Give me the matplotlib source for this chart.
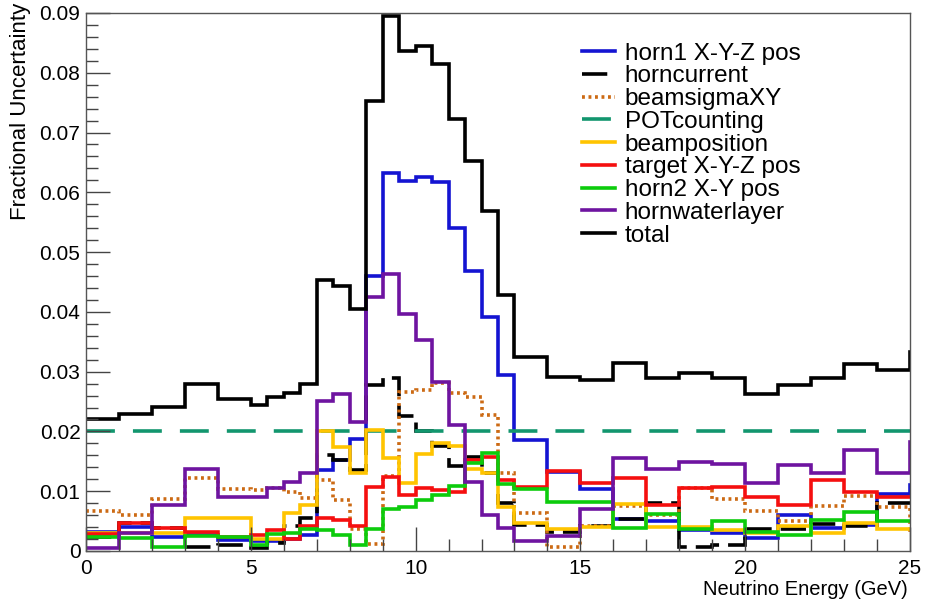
import matplotlib
matplotlib.use('Agg')
import matplotlib.pyplot as plt
from matplotlib.ticker import MultipleLocator

plt.rcParams['font.family'] = ['Liberation Sans', 'DejaVu Sans']

# bin edges (GeV); the last bin sits past 25 and only shows as the step at the edge
edges = [0, 1, 2, 3, 4, 5, 5.5, 6, 6.5, 7, 7.5, 8, 8.5, 9, 9.5, 10, 10.5, 11,
         11.5, 12, 12.5, 13, 14, 15, 16, 17, 18, 19, 20, 21, 22, 23, 24, 25, 26]

horn1 = [0.0032, 0.0040, 0.0023, 0.0027, 0.0018, 0.0016, 0.0016, 0.0020, 0.0027,
         0.0135, 0.0152, 0.0187, 0.0460, 0.0632, 0.0619, 0.0626, 0.0618, 0.0540,
         0.0469, 0.0392, 0.0294, 0.0186, 0.0132, 0.0103, 0.0053, 0.0050, 0.0035,
         0.0030, 0.0021, 0.0060, 0.0038, 0.0043, 0.0095, 0.0110]
horncurrent = [0.0024, 0.0047, 0.0038, 0.0006, 0.0010, 0.0005, 0.0013, 0.0042, 0.0056,
               0.0161, 0.0152, 0.0135, 0.0278, 0.0289, 0.0225, 0.0201, 0.0176, 0.0142,
               0.0157, 0.0131, 0.0081, 0.0044, 0.0032, 0.0042, 0.0053, 0.0081, 0.0007,
               0.0010, 0.0037, 0.0037, 0.0045, 0.0041, 0.0081, 0.0081]
beamsigma = [0.0067, 0.0061, 0.0087, 0.0122, 0.0104, 0.0102, 0.0105, 0.0098, 0.0088,
             0.0118, 0.0085, 0.0036, 0.0012, 0.0125, 0.0266, 0.0270, 0.0281, 0.0264,
             0.0257, 0.0227, 0.0130, 0.0063, 0.0006, 0.0042, 0.0076, 0.0060, 0.0105,
             0.0087, 0.0067, 0.0051, 0.0075, 0.0092, 0.0073, 0.0035]
potcounting = [0.02] * 34
beampos = [0.0030, 0.0030, 0.0030, 0.0056, 0.0056, 0.0020, 0.0020, 0.0063, 0.0077,
           0.0200, 0.0174, 0.0131, 0.0203, 0.0155, 0.0114, 0.0163, 0.0180, 0.0176,
           0.0138, 0.0130, 0.0074, 0.0046, 0.0036, 0.0040, 0.0079, 0.0040, 0.0040,
           0.0035, 0.0030, 0.0041, 0.0030, 0.0046, 0.0036, 0.0036]
target = [0.0028, 0.0046, 0.0038, 0.0031, 0.0024, 0.0027, 0.0035, 0.0020, 0.0041,
          0.0055, 0.0052, 0.0042, 0.0107, 0.0124, 0.0094, 0.0106, 0.0102, 0.0098,
          0.0152, 0.0157, 0.0118, 0.0107, 0.0133, 0.0114, 0.0122, 0.0077, 0.0105,
          0.0107, 0.0091, 0.0077, 0.0119, 0.0098, 0.0091, 0.0091]
horn2 = [0.0024, 0.0021, 0.0006, 0.0025, 0.0024, 0.0010, 0.0028, 0.0030, 0.0036,
         0.0035, 0.0027, 0.0010, 0.0036, 0.0070, 0.0074, 0.0085, 0.0094, 0.0108,
         0.0147, 0.0164, 0.0112, 0.0103, 0.0082, 0.0082, 0.0038, 0.0062, 0.0036,
         0.0050, 0.0032, 0.0027, 0.0052, 0.0066, 0.0051, 0.0051]
waterlayer = [0.0005, 0.0030, 0.0077, 0.0137, 0.0090, 0.0091, 0.0105, 0.0116, 0.0130,
              0.0251, 0.0263, 0.0216, 0.0425, 0.0464, 0.0397, 0.0353, 0.0283, 0.0211,
              0.0116, 0.0060, 0.0038, 0.0016, 0.0025, 0.0070, 0.0155, 0.0138, 0.0149,
              0.0145, 0.0113, 0.0144, 0.0131, 0.0169, 0.0130, 0.0183]
total = [0.0220, 0.0229, 0.0241, 0.0279, 0.0254, 0.0244, 0.0258, 0.0265, 0.0280,
         0.0453, 0.0444, 0.0404, 0.0753, 0.0895, 0.0836, 0.0845, 0.0814, 0.0722,
         0.0652, 0.0569, 0.0428, 0.0325, 0.0291, 0.0286, 0.0314, 0.0290, 0.0298,
         0.0290, 0.0263, 0.0278, 0.0290, 0.0312, 0.0303, 0.0333]

labels = ['horn1 X-Y-Z pos', 'horncurrent', 'beamsigmaXY', 'POTcounting',
          'beamposition', 'target X-Y-Z pos', 'horn2 X-Y pos', 'hornwaterlayer', 'total']

fig = plt.figure(figsize=(9.32, 6.01), dpi=100)
ax = fig.add_axes([0.0923, 0.0832, 0.8841, 0.8952])

lw = 2.6
series = [
    (horn1, dict(color='#1414d2', lw=lw)),
    (horncurrent, dict(color='black', lw=lw, linestyle=(0, (7, 2.5)))),
    (beamsigma, dict(color='#cc6a14', lw=lw, linestyle=(0, (0.8, 1.0)))),
    (potcounting, dict(color='#12966e', lw=lw, linestyle=(0, (8, 5)))),
    (beampos, dict(color='#ffc400', lw=lw)),
    (target, dict(color='#f50f0f', lw=lw)),
    (horn2, dict(color='#0ccc0c', lw=lw)),
    (waterlayer, dict(color='#6e14a0', lw=lw)),
    (total, dict(color='black', lw=lw)),
]
for (vals, style), lab in zip(series, labels):
    ax.stairs(vals, edges, baseline=None, label=lab, **style)

ax.set_xlim(0, 25)
ax.set_ylim(0, 0.09)

ax.xaxis.set_major_locator(MultipleLocator(5))
ax.xaxis.set_minor_locator(MultipleLocator(1))
ax.yaxis.set_major_locator(MultipleLocator(0.01))
ax.yaxis.set_minor_locator(MultipleLocator(0.002))
ax.yaxis.set_major_formatter(plt.FuncFormatter(lambda v, p: '0' if abs(v) < 1e-9 else '%.2f' % v))
ax.tick_params(which='both', direction='in', top=False, right=False,
               labelsize=15, color='#444444', width=1)
ax.tick_params(which='major', length=17)
ax.tick_params(which='minor', length=8.5)
ax.tick_params(axis='x', pad=6)
ax.tick_params(axis='y', pad=4)
for s in ax.spines.values():
    s.set_color('#555555')
    s.set_linewidth(1)

fig.text(0.022, 0.995, 'Fractional Uncertainty', rotation=90, ha='center', va='top', fontsize=16)
fig.text(0.974, 0.003, 'Neutrino Energy (GeV)', ha='right', va='bottom', fontsize=14.5)

leg = ax.legend(loc='upper left', bbox_to_anchor=(0.602, 0.945), frameon=False,
                fontsize=17.5, handlelength=1.35, handletextpad=0.4,
                labelspacing=0.03, borderpad=0, borderaxespad=0)

fig.savefig('out.png', dpi=100)
